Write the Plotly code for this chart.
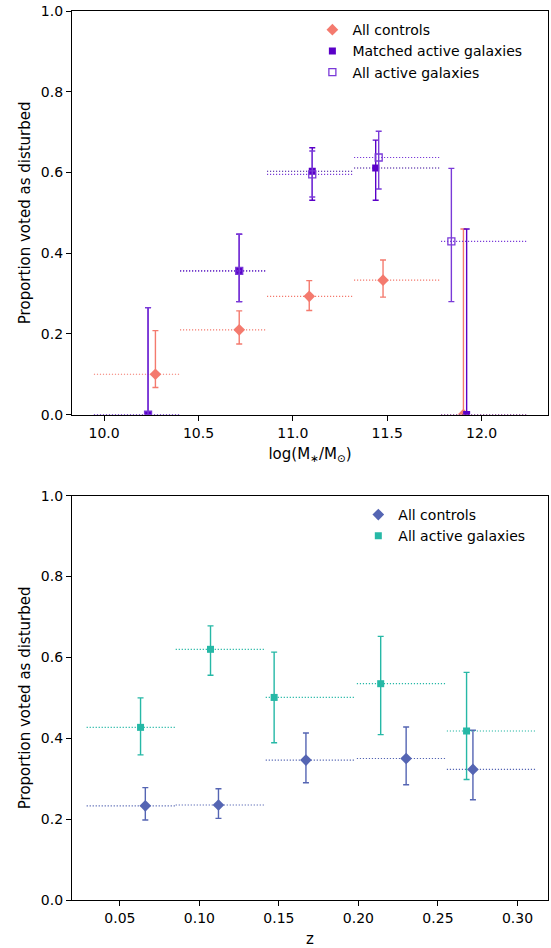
import plotly.graph_objects as go
from plotly.subplots import make_subplots

# ---------------- Top panel data (stellar mass) ----------------
mass_bin_lo = [9.946, 10.402, 10.863, 11.324, 11.785]
mass_bin_hi = [10.402, 10.863, 11.324, 11.785, 12.245]

ctrl_mass_x = [10.272, 10.716, 11.087, 11.478, 11.904]
ctrl_mass_y = [0.100, 0.210, 0.293, 0.333, 0.000]
ctrl_mass_up = [0.208, 0.257, 0.332, 0.383, 0.460]
ctrl_mass_lo = [0.067, 0.175, 0.258, 0.291, 0.000]

matched_x = [10.233, 10.716, 11.103, 11.439, 11.921]
matched_y = [0.000, 0.356, 0.603, 0.611, 0.000]
matched_up = [0.265, 0.447, 0.661, 0.680, 0.460]
matched_lo = [0.000, 0.280, 0.531, 0.531, 0.000]

allact_x = [10.233, 10.716, 11.103, 11.455, 11.840]
allact_y = [0.000, 0.356, 0.595, 0.637, 0.429]
allact_up = [0.265, 0.447, 0.653, 0.702, 0.610]
allact_lo = [0.000, 0.280, 0.539, 0.559, 0.280]

# ---------------- Bottom panel data (redshift) ----------------
z_bin_lo = [0.0291, 0.0851, 0.1417, 0.1990, 0.2556]
z_bin_hi = [0.0851, 0.1417, 0.1981, 0.2550, 0.3115]

ctrl_z_x = [0.066, 0.112, 0.167, 0.230, 0.272]
ctrl_z_y = [0.233, 0.235, 0.346, 0.350, 0.323]
ctrl_z_up = [0.278, 0.275, 0.413, 0.428, 0.420]
ctrl_z_lo = [0.198, 0.202, 0.290, 0.285, 0.248]

act_z_x = [0.063, 0.107, 0.147, 0.214, 0.268]
act_z_y = [0.427, 0.620, 0.501, 0.535, 0.418]
act_z_up = [0.500, 0.678, 0.613, 0.652, 0.563]
act_z_lo = [0.359, 0.556, 0.389, 0.409, 0.298]

SALMON = "#f47a6e"
PURPLE = "#5a00c8"
PURPLE_L = "#7a3ad8"
BLUE = "#5565b3"
TEAL = "#26b8a6"
FONT = "DejaVu Sans"

fig = make_subplots(rows=2, cols=1, vertical_spacing=0.0912)


def seg(lo, hi, y):
    xs, ys = [], []
    for a, b, v in zip(lo, hi, y):
        xs += [a, b, None]
        ys += [v, v, None]
    return xs, ys


def add_series(row, lo, hi, x, y, up, low, color, lcolor, symbol, name, size=7, legend="legend"):
    xs, ys = seg(lo, hi, y)
    fig.add_trace(go.Scatter(x=xs, y=ys, mode="lines", showlegend=False,
                             line=dict(color=lcolor, width=1.2, dash="1.2px,1.8px"),
                             hoverinfo="skip"), row=row, col=1)
    fig.add_trace(go.Scatter(
        x=x, y=y, mode="markers", name=name, legend=legend, showlegend=True,
        marker=dict(symbol=symbol, size=size, color=color,
                    line=dict(color=color, width=1.3) if "open" in symbol else dict(width=0)),
        error_y=dict(type="data", symmetric=False,
                     array=[u - v for u, v in zip(up, y)],
                     arrayminus=[v - l for v, l in zip(y, low)],
                     color=color, thickness=1.4, width=3),
    ), row=row, col=1)


add_series(1, mass_bin_lo, mass_bin_hi, ctrl_mass_x, ctrl_mass_y, ctrl_mass_up, ctrl_mass_lo,
           SALMON, SALMON, "diamond", "All controls", size=9)
add_series(1, mass_bin_lo, mass_bin_hi, matched_x, matched_y, matched_up, matched_lo,
           PURPLE, "#3a0a9a", "square", "Matched active galaxies", size=7)
add_series(1, mass_bin_lo, mass_bin_hi, allact_x, allact_y, allact_up, allact_lo,
           PURPLE_L, PURPLE_L, "square-open", "All active galaxies", size=7)

add_series(2, z_bin_lo, z_bin_hi, ctrl_z_x, ctrl_z_y, ctrl_z_up, ctrl_z_lo,
           BLUE, BLUE, "diamond", "All controls", size=9, legend="legend2")
add_series(2, z_bin_lo, z_bin_hi, act_z_x, act_z_y, act_z_up, act_z_lo,
           TEAL, TEAL, "square", "All active galaxies", size=7, legend="legend2")

axis_common = dict(showline=True, mirror=True, linecolor="black", linewidth=1.2,
                   ticks="outside", ticklen=5, tickcolor="black", tickwidth=1.2,
                   showgrid=False, zeroline=False,
                   tickfont=dict(family=FONT, size=14, color="black"))

fig.update_xaxes(**axis_common)
fig.update_yaxes(**axis_common)

fig.update_xaxes(range=[9.830, 12.352], tickvals=[10.0, 10.5, 11.0, 11.5, 12.0],
                 ticktext=["10.0", "10.5", "11.0", "11.5", "12.0"],
                 title=dict(text="log(M<sub>∗</sub>/M<sub>⊙</sub>)", font=dict(family=FONT, size=15, color="black"),
                            standoff=8), row=1, col=1)
fig.update_xaxes(range=[0.0199, 0.3192], tickvals=[0.05, 0.10, 0.15, 0.20, 0.25, 0.30],
                 ticktext=["0.05", "0.10", "0.15", "0.20", "0.25", "0.30"],
                 title=dict(text="z", font=dict(family=FONT, size=15, color="black"), standoff=8),
                 row=2, col=1)
for r in (1, 2):
    fig.update_yaxes(range=[0, 1], tickvals=[0, 0.2, 0.4, 0.6, 0.8, 1.0],
                     ticktext=["0.0", "0.2", "0.4", "0.6", "0.8", "1.0"],
                     title=dict(text="Proportion voted as disturbed",
                                font=dict(family=FONT, size=15, color="black"), standoff=6),
                     row=r, col=1)

fig.update_layout(
    width=551, height=948,
    margin=dict(l=72, r=3, t=11, b=48),
    paper_bgcolor="white", plot_bgcolor="white",
    font=dict(family=FONT, size=14, color="black"),
    showlegend=True,
    legend=dict(x=0.505, y=0.9965, xanchor="left", yanchor="top", bgcolor="rgba(255,255,255,0)",
                font=dict(family=FONT, size=14, color="black"), tracegroupgap=0),
    legend2=dict(x=0.6015, y=0.4511, xanchor="left", yanchor="top", bgcolor="rgba(255,255,255,0)",
                 font=dict(family=FONT, size=14, color="black"), tracegroupgap=0),
)
fig.layout.yaxis.domain = [0.546, 1.0]
fig.layout.yaxis2.domain = [0.0, 0.4548]

fig.write_html("out.html", config={"displayModeBar": False},
               post_script="document.body.style.margin='0';document.body.style.overflow='hidden';")
